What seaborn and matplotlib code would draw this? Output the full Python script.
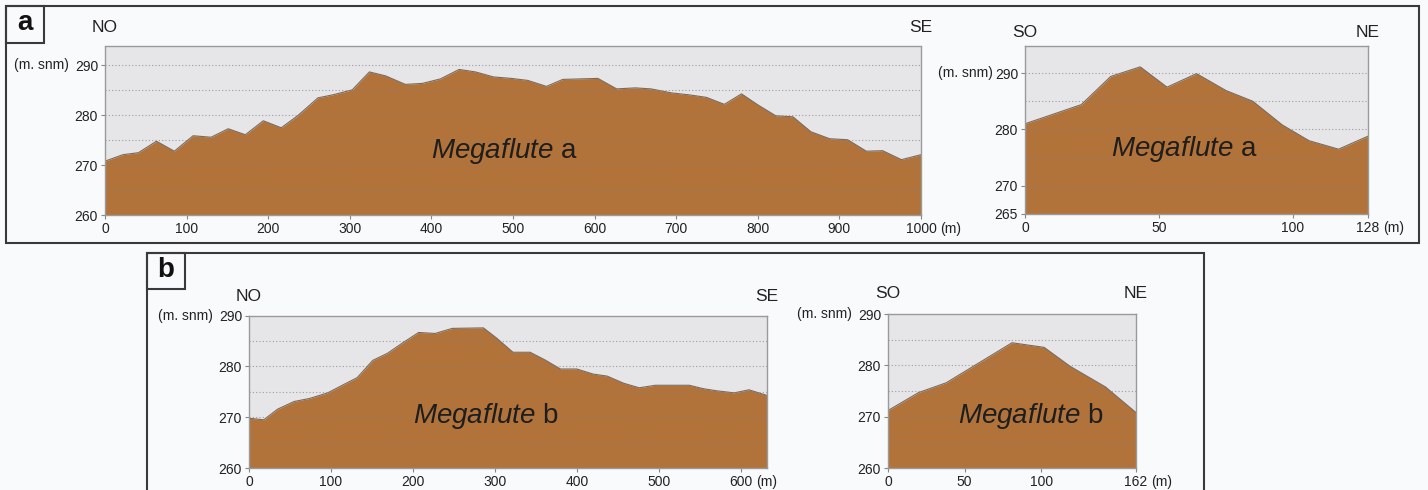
import matplotlib.pyplot as plt
import numpy as np
import pandas as pd
import seaborn as sns
from matplotlib.patches import Rectangle

# Megaflute a, long profile NO -> SE
a_long_dist = [0, 22, 41, 63, 85, 108, 130, 151, 172, 194, 216, 236, 261, 279, 303,
               324, 344, 368, 389, 411, 434, 454, 476, 498, 518, 541, 561, 582, 604,
               627, 650, 669, 694, 716, 737, 759, 780, 800, 822, 843, 865, 888, 910,
               933, 953, 976, 1000]
a_long_elev = [270.8, 272.1, 272.5, 274.8, 272.8, 275.9, 275.6, 277.3, 276.1, 278.9,
               277.5, 279.9, 283.5, 284.1, 285.1, 288.7, 287.9, 286.2, 286.4, 287.3,
               289.2, 288.7, 287.7, 287.4, 287.0, 285.8, 287.2, 287.3, 287.4, 285.3,
               285.5, 285.3, 284.5, 284.1, 283.6, 282.2, 284.3, 282.1, 279.9, 279.7,
               276.7, 275.3, 275.1, 272.8, 272.9, 271.1, 272.1]

# Megaflute a, cross profile SO -> NE
a_cross_dist = [0, 21, 32, 43, 53, 64, 75, 85, 96, 106, 117, 128]
a_cross_elev = [281.0, 284.4, 289.4, 291.1, 287.5, 289.9, 286.9, 285.0, 280.8, 278.0,
                276.5, 278.8]

# Megaflute b, long profile NO -> SE
b_long_dist = [0, 18, 35, 55, 74, 96, 115, 132, 151, 169, 187, 207, 227, 248, 286,
               302, 322, 343, 361, 380, 400, 420, 437, 457, 476, 496, 516, 537, 555,
               571, 592, 610, 632]
b_long_elev = [269.8, 269.5, 271.6, 273.1, 273.7, 274.8, 276.4, 277.8, 281.2, 282.6,
               284.6, 286.7, 286.5, 287.5, 287.6, 285.6, 282.8, 282.8, 281.3, 279.5,
               279.5, 278.5, 278.1, 276.7, 275.8, 276.3, 276.3, 276.3, 275.6, 275.2,
               274.8, 275.4, 274.3]

# Megaflute b, cross profile SO -> NE
b_cross_dist = [0, 20, 38, 81, 102, 119, 142, 162]
b_cross_elev = [271.2, 274.7, 276.6, 284.4, 283.5, 279.8, 275.8, 270.8]

a_long_xticks = [0, 100, 200, 300, 400, 500, 600, 700, 800, 900, 1000]
a_cross_xticks = [0, 50, 100, 128]
b_long_xticks = [0, 100, 200, 300, 400, 500, 600]
b_cross_xticks = [0, 50, 100, 162]

sns.set_theme(style="white")
plt.rcParams["font.family"] = ["Liberation Sans", "DejaVu Sans"]
plt.rcParams["mathtext.fontset"] = "custom"
plt.rcParams["mathtext.it"] = "Liberation Sans:italic"
plt.rcParams["mathtext.rm"] = "Liberation Sans"

W, H = 1428, 490
BG = "#f9fafc"
FILL = "#b2733a"
AXBG = "#e6e6e8"
TXT = "#222222"

fig = plt.figure(figsize=(W / 100, H / 100), dpi=100)
fig.patch.set_facecolor(BG)


def px_axes(l, t, r, b):
    return fig.add_axes([l / W, 1 - b / H, (r - l) / W, (b - t) / H])


def profile(box, dist, elev, xlim, ylim, xticks, yticks, grid, label, lbl_pos,
            ends, end_dy, snm_dx):
    ax = px_axes(*box)
    ax.set_facecolor(AXBG)
    df = pd.DataFrame({"dist": dist, "elev": elev})
    ax.fill_between(df["dist"], ylim[0], df["elev"], color=FILL, lw=0, zorder=2)
    sns.lineplot(data=df, x="dist", y="elev", ax=ax, color="#7a6a5e", lw=0.8,
                 zorder=3)
    for g in grid:
        ax.axhline(g, color="#7f7f7f", lw=0.8, ls=(0, (1, 2)), alpha=0.7, zorder=4)
    ax.set_xlim(*xlim)
    ax.set_ylim(*ylim)
    ax.set_xticks(xticks)
    ax.set_yticks(yticks)
    ax.set_xticklabels([str(v) for v in xticks])
    ax.set_xlabel("")
    ax.set_ylabel("")
    ax.tick_params(axis="both", labelsize=10, colors=TXT, length=3, width=0.8,
                   pad=2, direction="out", color="#888888")
    ax.tick_params(axis="both", bottom=True, left=True)
    for s in ax.spines.values():
        s.set_color("#9a9a9a")
        s.set_linewidth(1.0)
        s.set_zorder(5)

    # unit after last x tick
    last = xticks[-1]
    off = len(str(last)) * 0.556 * 10 / 2 + 2.5
    ax.annotate("(m)", xy=(last, 0), xycoords=("data", "axes fraction"),
                xytext=(off, -5), textcoords="offset points", ha="left", va="top",
                fontsize=10, color=TXT)
    # unit of elevation
    ax.annotate("(m. snm)", xy=(0, 290), xycoords=("axes fraction", "data"),
                xytext=(snm_dx, 0), textcoords="offset points", ha="right",
                va="center", fontsize=10, color=TXT)
    # direction labels
    for xf, t in zip([0, 1], ends):
        ax.annotate(t, xy=(xf, 1), xycoords="axes fraction", xytext=(0, end_dy),
                    textcoords="offset points", ha="center", va="center",
                    fontsize=12.5, color=TXT)
    ax.text(lbl_pos[0], lbl_pos[1], r"$\mathit{Megaflute}$ " + label,
            transform=ax.transAxes, ha="center", va="center", fontsize=20,
            color="#1e1e1e", zorder=6)
    return ax


profile((105, 46.5, 921, 215), a_long_dist, a_long_elev, (0, 1000), (260, 293.8),
        a_long_xticks, [260, 270, 280, 290], [265, 270, 275, 280, 285, 290],
        "a", (0.49, 0.38), ["NO", "SE"], 13.5, -26)
profile((1025, 46, 1368, 214), a_cross_dist, a_cross_elev, (0, 128), (265, 294.8),
        a_cross_xticks, [265, 270, 280, 290], [270, 275, 280, 285, 290],
        "a", (0.464, 0.385), ["SO", "NE"], 9.5, -23)
profile((249, 315.7, 767, 468), b_long_dist, b_long_elev, (0, 632), (260, 290),
        b_long_xticks, [260, 270, 280, 290], [265, 270, 275, 280, 285],
        "b", (0.458, 0.34), ["NO", "SE"], 13.5, -26)
profile((888, 314, 1136, 468), b_cross_dist, b_cross_elev, (0, 162), (260, 290),
        b_cross_xticks, [260, 270, 280, 290], [265, 270, 275, 280, 285],
        "b", (0.577, 0.34), ["SO", "NE"], 15, -26)


# panel frames and letter boxes (pixel coordinates, origin top-left)
def fig_rect(l, t, r, b, **kw):
    fig.patches.append(Rectangle((l / W, 1 - b / H), (r - l) / W, (b - t) / H,
                                 transform=fig.transFigure, fill=False, **kw))


fig_rect(6, 6, 1419, 243, ec="#3a3a3a", lw=1.5)
fig_rect(147, 253, 1204, 500, ec="#3a3a3a", lw=1.5)
fig_rect(6, 6, 44, 43, ec="#3a3a3a", lw=1.5)
fig_rect(147, 253, 185, 289, ec="#3a3a3a", lw=1.5)
fig.text(25 / W, 1 - 23 / H, "a", ha="center", va="center", fontsize=20,
         fontweight="bold", color="#111111")
fig.text(166 / W, 1 - 270 / H, "b", ha="center", va="center", fontsize=20,
         fontweight="bold", color="#111111")

fig.savefig("out.png", dpi=100, facecolor=BG)
